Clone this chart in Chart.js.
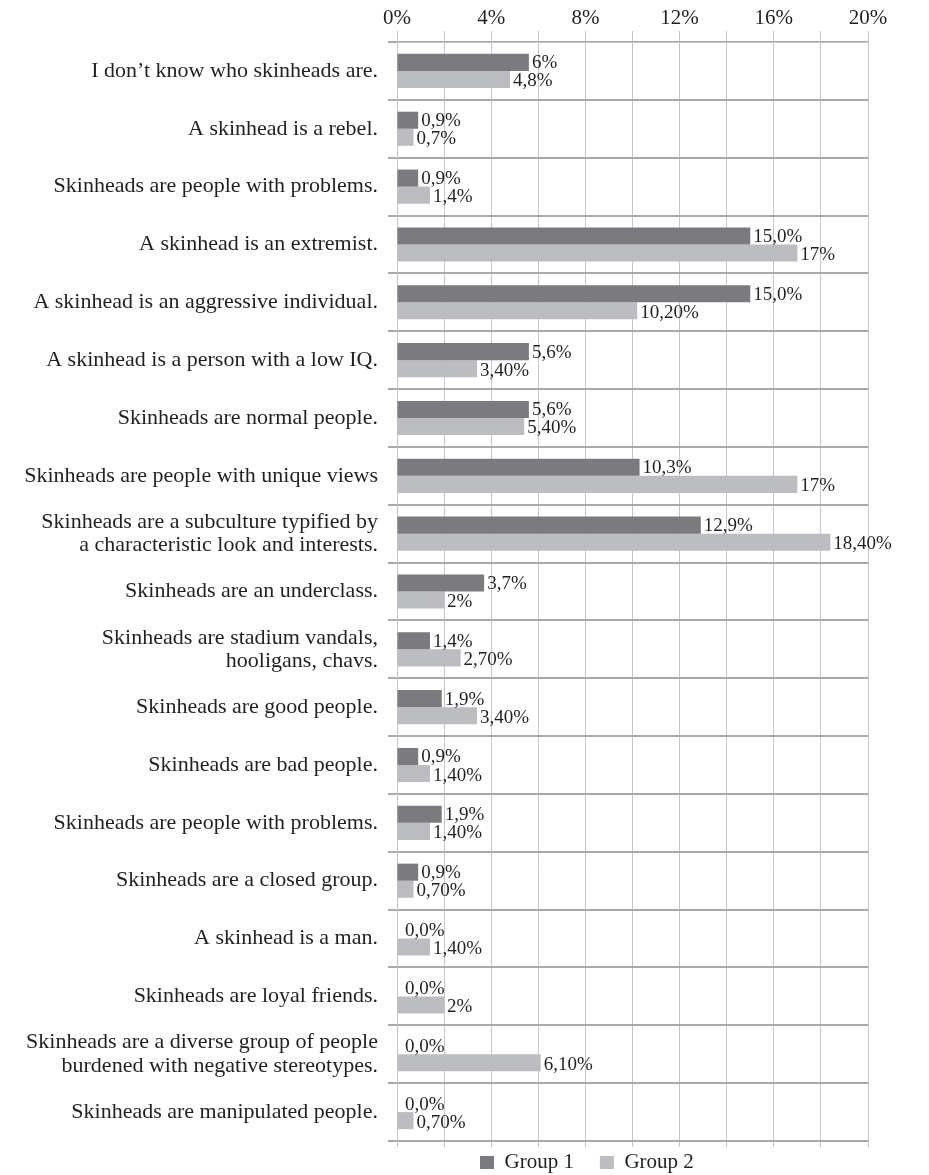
<!DOCTYPE html>
<html>
<head>
<meta charset="utf-8">
<title>Skinheads chart</title>
<script src="https://cdn.jsdelivr.net/npm/chart.js@4/dist/chart.umd.min.js"></script>
<style>
  body { margin: 0; background: #fff; }
  #wrap { width: 929px; height: 1175px; }
</style>
</head>
<body>
<div id="wrap"><canvas id="myChart"></canvas></div>
<script>
var categories = [
  'I don\u2019t know who skinheads are.',
  'A skinhead is a rebel.',
  'Skinheads are people with problems.',
  'A skinhead is an extremist.',
  'A skinhead is an aggressive individual.',
  'A skinhead is a person with a low IQ.',
  'Skinheads are normal people.',
  'Skinheads are people with unique views',
  ['Skinheads are a subculture typified by', 'a characteristic look and interests.'],
  'Skinheads are an underclass.',
  ['Skinheads are stadium vandals,', 'hooligans, chavs.'],
  'Skinheads are good people.',
  'Skinheads are bad people.',
  'Skinheads are people with problems.',
  'Skinheads are a closed group.',
  'A skinhead is a man.',
  'Skinheads are loyal friends.',
  ['Skinheads are a diverse group of people', 'burdened with negative stereotypes.'],
  'Skinheads are manipulated people.'
];

var group1 = [5.6, 0.9, 0.9, 15.0, 15.0, 5.6, 5.6, 10.3, 12.9, 3.7, 1.4, 1.9, 0.9, 1.9, 0.9, 0, 0, 0, 0];
var group2 = [4.8, 0.7, 1.4, 17, 10.2, 3.4, 5.4, 17, 18.4, 2, 2.7, 3.4, 1.4, 1.4, 0.7, 1.4, 2, 6.1, 0.7];

var group1Labels = ['6%', '0,9%', '0,9%', '15,0%', '15,0%', '5,6%', '5,6%', '10,3%', '12,9%', '3,7%',
  '1,4%', '1,9%', '0,9%', '1,9%', '0,9%', '0,0%', '0,0%', '0,0%', '0,0%'];
var group2Labels = ['4,8%', '0,7%', '1,4%', '17%', '10,20%', '3,40%', '5,40%', '17%', '18,40%', '2%',
  '2,70%', '3,40%', '1,40%', '1,40%', '0,70%', '1,40%', '2%', '6,10%', '0,70%'];

var seriesNames = ['Group 1', 'Group 2'];
var xTicks = [0, 4, 8, 12, 16, 20];
var xTickLabels = ['0%', '4%', '8%', '12%', '16%', '20%'];

var FONT = "'Liberation Serif', 'Times New Roman', serif";
var TEXT = '#231f20';

// draws the value text to the right of each bar
var valueLabels = {
  id: 'valueLabels',
  afterDatasetsDraw: function(chart) {
    var ctx = chart.ctx;
    var texts = [group1Labels, group2Labels];
    ctx.save();
    ctx.font = '19px ' + FONT;
    ctx.fillStyle = TEXT;
    ctx.textAlign = 'left';
    ctx.textBaseline = 'middle';
    chart.data.datasets.forEach(function(ds, di) {
      var meta = chart.getDatasetMeta(di);
      meta.data.forEach(function(bar, i) {
        var x = bar.x + (ds.data[i] === 0 ? 8 : 3);
        ctx.fillText(texts[di][i], x, bar.y + 1 + di);
      });
    });
    ctx.restore();
  }
};

// move the legend so it sits where the original one is (starts at x=480, centre y=1163)
var legendPlace = {
  id: 'legendPlace',
  afterLayout: function(chart) {
    var lg = chart.legend;
    var p = lg.options.labels.padding;
    var d = (2 * 480 - lg.left - p - lg.right + lg.lineWidths[0]) / 2;
    lg.left += d;
    lg.right += d;
    lg.top -= 15;
    lg.bottom -= 15;
  }
};

var ctx = document.getElementById('myChart').getContext('2d');
var myChart = new Chart(ctx, {
  type: 'bar',
  data: {
    labels: categories,
    datasets: [{
      label: seriesNames[0],
      data: group1,
      backgroundColor: '#7b7b7f',
      borderWidth: 0
    }, {
      label: seriesNames[1],
      data: group2,
      backgroundColor: '#bcbdc0',
      borderWidth: 0
    }]
  },
  options: {
    indexAxis: 'y',
    responsive: true,
    maintainAspectRatio: false,
    animation: false,
    categoryPercentage: 0.59,
    barPercentage: 1.0,
    layout: {
      padding: { left: 0, right: 61, top: 0, bottom: -23 }
    },
    scales: {
      x: {
        position: 'top',
        min: 0,
        max: 20,
        afterFit: function(scale) { scale.height = 42; },
        ticks: {
          stepSize: 2,
          autoSkip: false,
          maxRotation: 0,
          padding: 0,
          color: TEXT,
          font: { family: FONT, size: 21 },
          callback: function(v) {
            var i = xTicks.indexOf(v);
            return i >= 0 ? xTickLabels[i] : '';
          }
        },
        grid: { color: '#c6c6c6', lineWidth: 1, tickLength: 11 },
        border: { color: '#c6c6c6' }
      },
      // only there for the short tick marks under the plot
      x2: {
        position: 'bottom',
        min: 0,
        max: 20,
        afterFit: function(scale) { scale.height = 0; },
        ticks: { stepSize: 2, display: false },
        grid: { color: '#c6c6c6', lineWidth: 1, tickLength: 6, drawOnChartArea: false },
        border: { display: false }
      },
      y: {
        afterFit: function(scale) { scale.width = 397; },
        ticks: {
          autoSkip: false,
          padding: 10,
          color: TEXT,
          font: { family: FONT, size: 22, lineHeight: 1.05 }
        },
        grid: { color: '#a9a9a9', lineWidth: 2, tickLength: 9 },
        border: { color: '#c6c6c6', width: 1 }
      }
    },
    plugins: {
      legend: {
        position: 'bottom',
        labels: {
          boxWidth: 14,
          boxHeight: 13,
          padding: 26,
          color: TEXT,
          font: { family: FONT, size: 21 }
        }
      },
      tooltip: { enabled: false }
    }
  },
  plugins: [valueLabels, legendPlace]
});
</script>
</body>
</html>
